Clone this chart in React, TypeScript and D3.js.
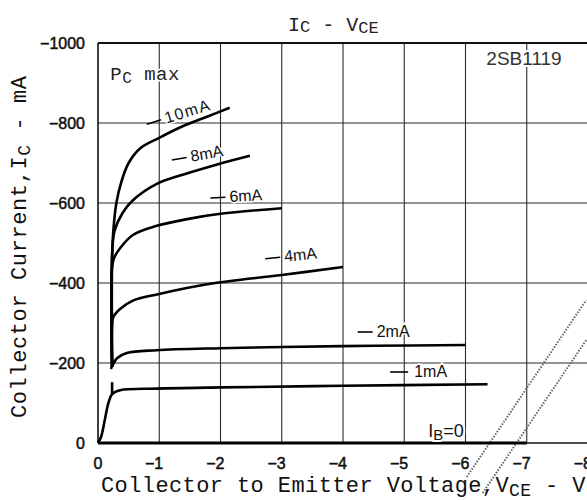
import { useEffect } from "react";
import * as d3 from "d3";

// I_C - V_CE curves for 2SB1119 (V, mA)
const vTicks = [0, -1, -2, -3, -4, -5, -6, -7, -8];
const iTicks = [0, -200, -400, -600, -800, -1000];

const ib10 = [[-0.23, -190], [-0.23, -460], [-0.25, -530], [-0.3, -600], [-0.38, -652], [-0.5, -700], [-0.7, -738], [-1.0, -763], [-1.4, -793], [-1.8, -817], [-2.15, -838]];
const ib8 = [[-0.23, -190], [-0.23, -470], [-0.27, -530], [-0.4, -575], [-0.57, -607], [-0.96, -648], [-1.5, -676], [-1.96, -697], [-2.48, -718]];
const ib6 = [[-0.23, -190], [-0.23, -440], [-0.26, -462], [-0.36, -487], [-0.57, -520], [-0.96, -543], [-1.5, -561], [-2.0, -573], [-3.0, -587]];
const ib4 = [[-0.23, -190], [-0.23, -290], [-0.25, -315], [-0.36, -335], [-0.57, -356], [-0.98, -372], [-1.83, -398], [-3.0, -420], [-4.0, -440]];
const ib2 = [[-0.21, -185], [-0.24, -195], [-0.31, -212], [-0.47, -225], [-0.96, -232], [-2.0, -237], [-3.0, -240], [-4.5, -243], [-6.0, -245]];
const ib1 = [[0, 0], [-0.05, -15], [-0.11, -57], [-0.17, -100], [-0.23, -122], [-0.36, -132], [-0.96, -136], [-2.0, -139], [-4.0, -143], [-6.36, -147]];
const ib1Tick = [[-0.23, -122], [-0.23, -152]];
const ib0 = [[0, 0], [-7, 0]];

const curves = [ib10, ib8, ib6, ib4, ib2, ib1, ib1Tick];

// curve labels: text, V, I, rotation
const curveLabels: [string, number, number, number][] = [
  ["10mA", -0.82, -785, -17],
  ["8mA", -1.22, -695, -10],
  ["6mA", -1.84, -600, -3],
  ["4mA", -2.74, -448, -6],
  ["2mA", -4.24, -265, 0],
  ["1mA", -4.77, -165, 0],
];

// dotted tape edges visible on the scan (V, mA)
const scanMarks = [
  [[-6.02, 85], [-7.97, -357]],
  [[-6.28, 125], [-7.97, -257]],
];

const W = 587;
const H = 500;
const mono = "'Liberation Mono', 'DejaVu Sans Mono', monospace";
const sans = "'Liberation Sans', Arial, sans-serif";

export default function App() {
  useEffect(() => {
    document.body.style.margin = "0";
  }, []);

  const x = d3.scaleLinear().domain([0, -8]).range([98, 588]);
  const y = d3.scaleLinear().domain([0, -1000]).range([443, 43]);

  const line = d3
    .line()
    .x((d: any) => x(d[0]))
    .y((d: any) => y(d[1]))
    .curve(d3.curveCatmullRom.alpha(0.5));
  const straight = d3
    .line()
    .x((d: any) => x(d[0]))
    .y((d: any) => y(d[1]));

  const x0 = x(0);
  const x1 = x(-8);
  const yTop = y(-1000);
  const yBot = y(0);

  return (
    <svg width={W} height={H} style={{ display: "block", background: "#fff" }}>
      {/* grid */}
      <g stroke="#2a2a2a" strokeWidth={1.1}>
        {vTicks.slice(1).map((v) => (
          <line key={"v" + v} x1={x(v)} x2={x(v)} y1={yTop} y2={yBot} />
        ))}
        {iTicks.slice(1, -1).map((i) => (
          <line key={"h" + i} x1={x0} x2={x1} y1={y(i)} y2={y(i)} />
        ))}
      </g>
      <line x1={x0} x2={x0} y1={yTop} y2={yBot} stroke="#111" strokeWidth={1.6} />
      <line x1={x0} x2={x1} y1={yTop} y2={yTop} stroke="#111" strokeWidth={1.8} />
      <line x1={x0} x2={x1} y1={yBot} y2={yBot} stroke="#111" strokeWidth={1.6} />

      {/* scan marks */}
      {scanMarks.map((m, k) => (
        <path
          key={"s" + k}
          d={straight(m as any) || ""}
          fill="none"
          stroke="#666"
          strokeWidth={2}
          strokeDasharray="1.5 1.5"
        />
      ))}

      {/* curves */}
      {curves.map((c, k) => (
        <path key={"c" + k} d={line(c as any) || ""} fill="none" stroke="#000" strokeWidth={2.6} />
      ))}
      <path d={straight(ib0 as any) || ""} fill="none" stroke="#000" strokeWidth={3} />

      {/* curve labels */}
      {curveLabels.map(([t, v, i, a]) => (
        <g key={t} transform={`translate(${x(v)},${y(i)}) rotate(${a})`}>
          <line x1={0} x2={t === "1mA" ? 18 : 15} y1={-5} y2={-5} stroke="#000" strokeWidth={1.6} />
          <text
            x={t === "1mA" ? 24 : 19}
            y={0}
            fontFamily={sans}
            fontSize={16}
            letterSpacing={t === "10mA" ? 1.5 : 0}
            fill="#111"
            stroke="#fff"
            strokeWidth={3}
            paintOrder="stroke"
          >
            {t}
          </text>
        </g>
      ))}
      <text x={x(-5.39)} y={y(-15)} fontFamily={sans} fontSize={18} fill="#111" stroke="#fff" strokeWidth={4} paintOrder="stroke">
        I<tspan fontSize={15} dy={3}>B</tspan>
        <tspan dy={-3}>=0</tspan>
      </text>

      {/* in-plot notes */}
      <text x={x(-0.2)} y={y(-908)} fontFamily={mono} fontSize={19} fill="#222" letterSpacing={0.5} stroke="#fff" strokeWidth={3} paintOrder="stroke">
        P<tspan fontSize={16} dy={3}>C</tspan>
        <tspan dy={-3}> max</tspan>
      </text>
      <text x={x(-6.34)} y={y(-945)} fontFamily={sans} fontSize={19} fill="#333" stroke="#fff" strokeWidth={4} paintOrder="stroke">
        2SB1119
      </text>

      {/* title */}
      <text x={288} y={31} fontFamily={mono} fontSize={20} fill="#222">
        I<tspan fontSize={17} dy={1}>C</tspan>
        <tspan dy={-1}> - V</tspan>
        <tspan fontSize={17} dy={2}>CE</tspan>
      </text>

      {/* y ticks */}
      {iTicks.map((i) => (
        <text key={"yt" + i} x={85} y={y(i) + 5.5} textAnchor="end" fontFamily={sans} fontSize={16} fill="#111" stroke="#111" strokeWidth={0.5}>
          {i === 0 ? "0" : "\u2212" + Math.abs(i)}
        </text>
      ))}
      {/* x ticks */}
      {vTicks.map((v) => (
        <text
          key={"xt" + v}
          x={v === 0 ? x(v) : x(v) + 4}
          y={469}
          textAnchor={v === 0 ? "middle" : "end"}
          fontFamily={sans}
          fontSize={16}
          fill="#111"
          stroke="#111"
          strokeWidth={0.5}
        >
          {v === 0 ? "0" : "\u2212" + Math.abs(v)}
        </text>
      ))}

      {/* axis titles */}
      <text x={101} y={492} fontFamily={mono} fontSize={22} letterSpacing={0.4} fill="#111">
        Collector to Emitter Voltage,V<tspan fontSize={18} dy={4}>CE</tspan>
        <tspan dy={-4}> - V</tspan>
      </text>
      <text
        transform="translate(26,418) rotate(-90)"
        fontFamily={mono}
        fontSize={22}
        letterSpacing={0.6}
        fill="#111"
      >
        Collector Current,I<tspan fontSize={18} dy={4}>C</tspan>
        <tspan dy={-4}> - mA</tspan>
      </text>
    </svg>
  );
}
